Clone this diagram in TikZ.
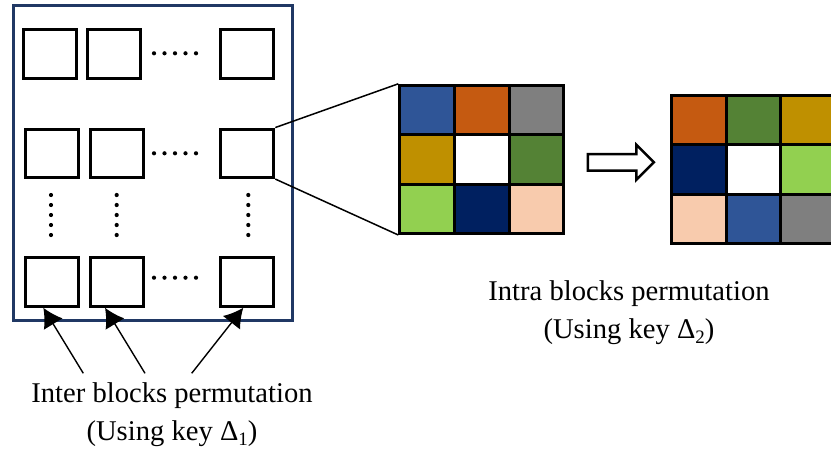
\documentclass[tikz,border=0pt]{standalone}
\usepackage{fontspec}
\setmainfont{Liberation Serif}
\usepackage{xcolor}
\usepackage{tikz}
\usetikzlibrary{shapes,arrows.meta,positioning,calc}
\definecolor{framenavy}{RGB}{32,56,100}
\definecolor{cellblue}{RGB}{47,85,151}
\definecolor{cellorange}{RGB}{197,90,17}
\definecolor{cellgray}{RGB}{127,127,127}
\definecolor{cellgold}{RGB}{191,144,0}
\definecolor{cellgreen}{RGB}{84,130,53}
\definecolor{celllime}{RGB}{146,208,80}
\definecolor{cellnavy}{RGB}{0,32,96}
\definecolor{cellpeach}{RGB}{248,203,173}
\newcommand{\keysub}[1]{\raisebox{-5pt}{\fontsize{19}{19}\selectfont #1}}

\begin{document}
\begin{tikzpicture}[x=1pt, y=-1pt, every node/.style={font=\fontsize{28.6}{38.5}\selectfont},
    blk/.style={draw, line width=3pt, minimum width=53pt, minimum height=48.5pt, inner sep=0pt},
    cell/.style={draw, line width=3pt, minimum width=54.6pt, minimum height=49.4pt, inner sep=0pt},
    ptr/.style={-{Latex[length=19pt,width=22pt]}, line width=1.4pt}]
    \useasboundingbox (0,0) rectangle (831,453);
    \clip (0,0) rectangle (831,453);

    % Outer frame
    \node[draw=framenavy, line width=2.5pt, minimum width=279pt, minimum height=315pt, inner sep=0pt] (frame) at (153.2,162.9) {};

    % Blocks
    \foreach \name/\x/\y in {b11/49.7/54.2, b12/114.3/54.2, b13/247.3/54.2,
                             b21/52.3/153.3, b22/117/153.3, b23/247.3/153.3,
                             b31/52.3/282, b32/117/282, b33/247.3/282} {
        \node[blk] (\name) at (\x,\y) {};
    }

    % Dots
    \foreach \y in {53.3,153.3,277.7} {
        \foreach \k in {0,...,4} \fill ({154+10.5*\k},\y) circle (2.1pt);
    }
    \foreach \x in {51,116.7,248.3} {
        \foreach \k in {0,...,4} \fill (\x,{195+10*\k}) circle (2.1pt);
    }

    % Block before permutation
    \foreach \r/\c/\col in {1/1/cellblue, 1/2/cellorange, 1/3/cellgray,
                            2/1/cellgold, 2/2/white, 2/3/cellgreen,
                            3/1/celllime, 3/2/cellnavy, 3/3/cellpeach} {
        \node[cell, fill=\col] (g1-\r-\c) at ({427.1+54.6*(\c-1)},{110+49.4*(\r-1)}) {};
    }

    % Block after permutation
    \foreach \r/\c/\col in {1/1/cellorange, 1/2/cellgreen, 1/3/cellgold,
                            2/1/cellnavy, 2/2/white, 2/3/celllime,
                            3/1/cellpeach, 3/2/cellblue, 3/3/cellgray} {
        \node[cell, fill=\col] (g2-\r-\c) at ({698.8+54.6*(\c-1)},{120.2+49.4*(\r-1)}) {};
    }

    % Zoom lines
    \draw[line width=1.5pt] (b23.north east) -- (g1-1-1.north west);
    \draw[line width=1.5pt] (b23.south east) -- (g1-3-1.south west);

    % Permutation arrow
    \node[single arrow, draw, line width=2.5pt, fill=white, minimum height=66pt, inner sep=7pt,
          single arrow head extend=9.25pt, single arrow head indent=0pt] (perm) at (616.7,162.3) {};

    % Labels
    \node[align=center, inner sep=0pt] (interlbl) at (172,414.5) {Inter blocks permutation\\(Using key Δ\keysub{1})};
    \node[align=center, inner sep=0pt] (intralbl) at (629,312.7) {Intra blocks permutation\\(Using key Δ\keysub{2})};

    % Arrows to blocks
    \coordinate (p1) at (83.3,373.3);
    \coordinate (p2) at (145,373.3);
    \coordinate (p3) at (191.7,373.3);
    \draw[ptr] (p1) -- ([xshift=-9pt]b31.south);
    \draw[ptr] (p2) -- ([xshift=-12pt]b32.south);
    \draw[ptr] (p3) -- ([xshift=-4pt]b33.south);
\end{tikzpicture}
\end{document}
